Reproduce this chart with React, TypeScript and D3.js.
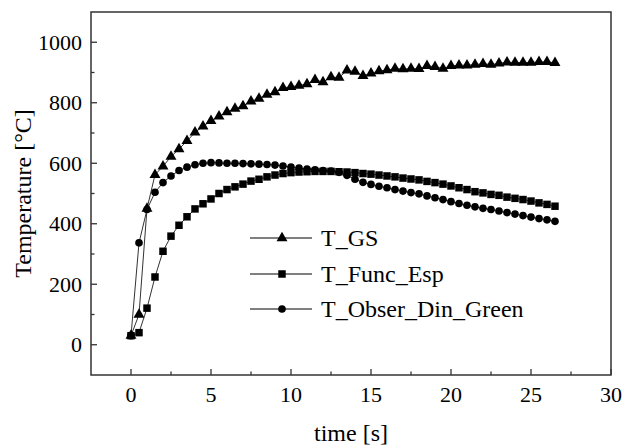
import React from "react";
import * as d3 from "d3";

const times = [
  0, 0.5, 1, 1.5, 2, 2.5, 3, 3.5, 4, 4.5,
  5, 5.5, 6, 6.5, 7, 7.5, 8, 8.5, 9, 9.5,
  10, 10.5, 11, 11.5, 12, 12.5, 13, 13.5, 14, 14.5,
  15, 15.5, 16, 16.5, 17, 17.5, 18, 18.5, 19, 19.5,
  20, 20.5, 21, 21.5, 22, 22.5, 23, 23.5, 24, 24.5,
  25, 25.5, 26, 26.5,
];

const tGS = [
  30, 100, 450, 562, 590, 622, 647, 674, 702, 722,
  740, 755, 769, 781, 789, 805, 814, 827, 835, 849,
  853, 857, 862, 876, 868, 885, 883, 907, 903, 889,
  897, 905, 908, 913, 911, 913, 912, 922, 919, 913,
  922, 924, 924, 926, 929, 926, 930, 934, 933, 933,
  933, 935, 935, 932,
];

const tFuncEsp = [
  30, 40, 121, 224, 309, 359, 395, 423, 449, 466,
  482, 500, 513, 522, 531, 541, 547, 555, 561, 566,
  569, 571, 572, 573, 573, 573, 572, 571, 569, 566,
  564, 561, 558, 555, 551, 548, 545, 540, 536, 531,
  525, 519, 513, 506, 502, 497, 494, 488, 484, 480,
  475, 469, 464, 458,
];

const tObserDinGreen = [
  30, 337, 447, 504, 536, 558, 576, 587, 595, 600,
  602, 601, 600, 600, 599, 598, 597, 596, 594, 591,
  587, 584, 581, 578, 576, 574, 570, 560, 547, 537,
  530, 524, 519, 513, 508, 503, 499, 492, 486, 480,
  473, 467, 461, 456, 451, 447, 442, 437, 432, 427,
  422, 417, 413, 408,
];

const seriesNames = ["T_GS", "T_Func_Esp", "T_Obser_Din_Green"];
const xMajorTicks = [0, 5, 10, 15, 20, 25, 30];
const xMinorTicks = [2.5, 7.5, 12.5, 17.5, 22.5, 27.5];
const yMajorTicks = [0, 200, 400, 600, 800, 1000];
const yMinorTicks = [100, 300, 500, 700, 900];
const xTitle = "time [s]";
const yTitle = "Temperature [°C]";

const W = 632;
const H = 448;
const L = 91;
const R = 611;
const T = 12;
const B = 375;
const FONT = "Liberation Serif, Times New Roman, Times, serif";

export default function App() {
  const x = d3.scaleLinear().domain([-2.5, 30]).range([L, R]);
  const y = d3.scaleLinear().domain([-100, 1100]).range([B, T]);

  const symbols = [
    d3.symbol().type(d3.symbolTriangle).size(52)(),
    d3.symbol().type(d3.symbolSquare).size(56)(),
    d3.symbol().type(d3.symbolCircle).size(46)(),
  ];
  const data = [tGS, tFuncEsp, tObserDinGreen];
  const line = d3
    .line<number>()
    .x((_, i) => x(times[i]))
    .y((d) => y(d));

  const legendY = [238, 274, 309];
  const txt = { fontFamily: FONT };

  return (
    <svg
      width={W}
      height={H}
      style={{ position: "absolute", left: 0, top: 0, background: "#fff" }}
    >
      <rect x={0} y={0} width={W} height={H} fill="#fff" />
      {data.map((s, k) => (
        <path key={"l" + k} d={line(s) || ""} fill="none" stroke="#333" strokeWidth={1} />
      ))}
      {data.map((s, k) =>
        s.map((v, i) => (
          <path
            key={"m" + k + "-" + i}
            d={symbols[k] || ""}
            transform={`translate(${x(times[i])},${y(v)})`}
            fill="#000"
          />
        ))
      )}
      <rect x={L} y={T} width={R - L} height={B - T} fill="none" stroke="#333" strokeWidth={1.5} />
      {xMajorTicks.map((t) => (
        <g key={"xt" + t}>
          <line x1={x(t)} x2={x(t)} y1={B} y2={B - 6} stroke="#333" strokeWidth={1.3} />
          <text x={x(t)} y={402} textAnchor="middle" style={txt} fontSize={22} fill="#000">
            {t}
          </text>
        </g>
      ))}
      {xMinorTicks.map((t) => (
        <line key={"xm" + t} x1={x(t)} x2={x(t)} y1={B} y2={B - 3.5} stroke="#333" strokeWidth={1.3} />
      ))}
      {yMajorTicks.map((t) => (
        <g key={"yt" + t}>
          <line x1={L} x2={L + 6} y1={y(t)} y2={y(t)} stroke="#333" strokeWidth={1.3} />
          <text x={82} y={y(t) + 7.5} textAnchor="end" style={txt} fontSize={22} fill="#000">
            {t}
          </text>
        </g>
      ))}
      {yMinorTicks.map((t) => (
        <line key={"ym" + t} x1={L} x2={L + 3.5} y1={y(t)} y2={y(t)} stroke="#333" strokeWidth={1.3} />
      ))}
      <text x={(L + R) / 2} y={441} textAnchor="middle" style={txt} fontSize={24} fill="#000">
        {xTitle}
      </text>
      <text
        transform={`translate(31,${(T + B) / 2}) rotate(-90)`}
        textAnchor="middle"
        style={txt}
        fontSize={24}
        fill="#000"
      >
        {yTitle}
      </text>
      {seriesNames.map((n, k) => (
        <g key={"lg" + k}>
          <line x1={250} x2={312} y1={legendY[k]} y2={legendY[k]} stroke="#000" strokeWidth={1} />
          <path d={symbols[k] || ""} transform={`translate(282,${legendY[k]})`} fill="#000" />
          <text x={321} y={legendY[k] + 7.5} style={txt} fontSize={24} fill="#000">
            {n}
          </text>
        </g>
      ))}
    </svg>
  );
}
